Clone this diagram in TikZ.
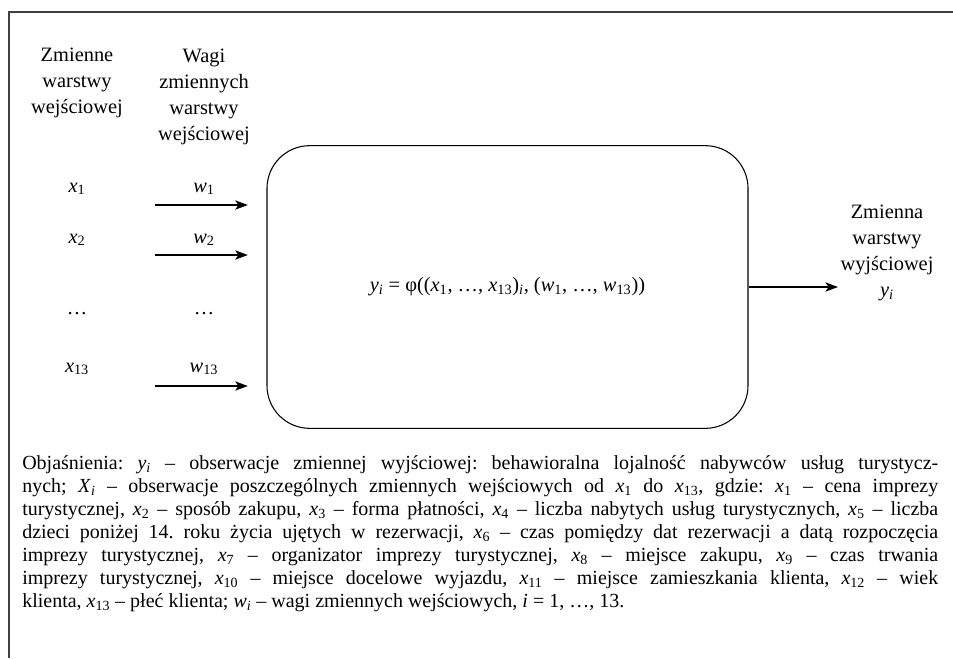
\documentclass[tikz,border=0pt]{standalone}
\usepackage{fontspec}
\setmainfont{Liberation Serif}
\usepackage{tikz}
\usetikzlibrary{arrows.meta,positioning}

\newcommand{\zm}[2]{\textit{#1}\textsubscript{#2}}

\begin{document}
\frenchspacing
\begin{tikzpicture}[x=0.75pt,y=-0.75pt,
    naglowek/.style={align=center, font=\fontsize{15.3}{19.6}\selectfont, inner sep=0pt},
    zmienna/.style={anchor=base, font=\fontsize{15.3}{18}\selectfont, inner sep=0pt},
    strzalka/.style={-{Stealth[length=9.5pt,width=7pt,inset=2.5pt]}, line width=0.8pt}]
    \useasboundingbox (0,0) rectangle (953,658);
    % ramka
    \draw[black!75, line width=1.3pt] (9,658) -- (9,12) -- (953,12);

    % naglowki kolumn
    \node[naglowek] (wejscie) at (77,83) {Zmienne\\warstwy\\wejściowej};
    \node[naglowek] (wagi) at (204,97) {Wagi\\zmiennych\\warstwy\\wejściowej};

    % zmienne i wagi
    \node[zmienna] (x1) at (77,192) {\zm{x}{1}};
    \node[zmienna] (x2) at (77,243) {\zm{x}{2}};
    \node[zmienna] (xd) at (77,314) {…};
    \node[zmienna] (x13) at (77,372) {\zm{x}{13}};
    \node[zmienna] (w1) at (204,192) {\zm{w}{1}};
    \node[zmienna] (w2) at (204,243) {\zm{w}{2}};
    \node[zmienna] (wd) at (204,314) {…};
    \node[zmienna] (w13) at (204,372) {\zm{w}{13}};

    % neuron
    \node[draw, line width=0.8pt, rounded corners=32pt, minimum width=360.75pt,
          minimum height=212pt, font=\fontsize{15.3}{18}\selectfont] (siec) at (507.5,287)
        {\zm{y}{\textit{i}} = φ((\zm{x}{1}, …, \zm{x}{13})\textsubscript{\textit{i}}, (\zm{w}{1}, …, \zm{w}{13}))};

    \coordinate (p1) at (155,205);
    \coordinate (p2) at (155,255);
    \coordinate (p13) at (155,386);
    \draw[strzalka] (p1) -- ([xshift=-14pt]p1 -| siec.west);
    \draw[strzalka] (p2) -- ([xshift=-14pt]p2 -| siec.west);
    \draw[strzalka] (p13) -- ([xshift=-14pt]p13 -| siec.west);

    % wyjscie
    \node[naglowek] (wyjscie) at (887,253) {Zmienna\\warstwy\\wyjściowej\\\zm{y}{\textit{i}}};
    \coordinate (k) at (838,287);
    \draw[strzalka] (siec.east |- k) -- (k);

    % objasnienia
    \node[anchor=north west, inner sep=0pt, text width=687pt, align=justify,
          font=\fontsize{15}{17.3}\selectfont] (opis) at (22,455)
        {Objaśnienia: \zm{y}{\textit{i}} – obserwacje zmiennej wyjściowej: behawioralna lojalność nabywców usług turystycz-\linebreak
        nych; \zm{X}{\textit{i}} – obserwacje poszczególnych zmiennych wejściowych od \zm{x}{1} do \zm{x}{13}, gdzie: \zm{x}{1} – cena imprezy\linebreak
        turystycznej, \zm{x}{2} – sposób zakupu, \zm{x}{3} – forma płatności, \zm{x}{4} – liczba nabytych usług turystycznych, \zm{x}{5} – liczba\linebreak
        dzieci poniżej 14. roku życia ujętych w rezerwacji, \zm{x}{6} – czas pomiędzy dat rezerwacji a datą rozpoczęcia\linebreak
        imprezy turystycznej, \zm{x}{7} – organizator imprezy turystycznej, \zm{x}{8} – miejsce zakupu, \zm{x}{9} – czas trwania\linebreak
        imprezy turystycznej, \zm{x}{10} – miejsce docelowe wyjazdu, \zm{x}{11} – miejsce zamieszkania klienta, \zm{x}{12} – wiek\linebreak
        klienta, \zm{x}{13} – płeć klienta; \zm{w}{\textit{i}} – wagi zmiennych wejściowych, \textit{i} = 1, …, 13.};
\end{tikzpicture}
\end{document}
